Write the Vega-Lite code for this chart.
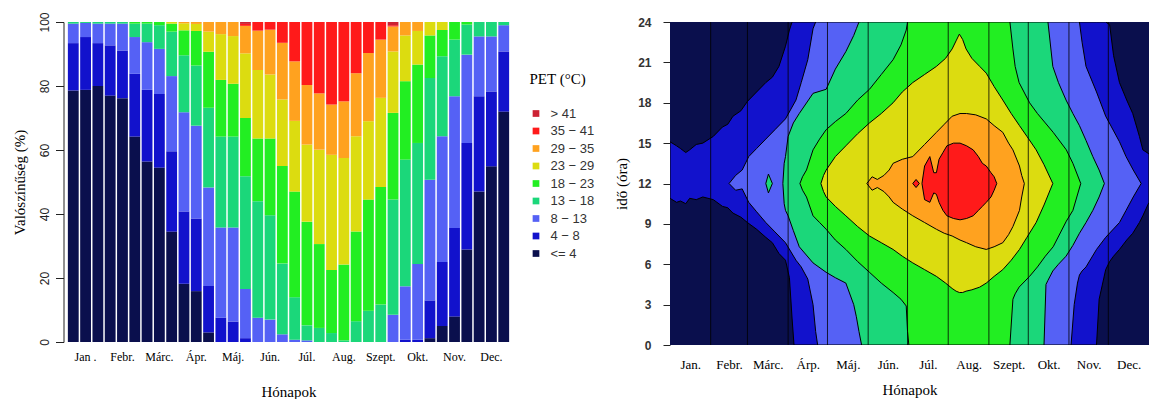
{
"$schema": "https://vega.github.io/schema/vega-lite/v6.json",
"background": "white",
"padding": {"left": 12.5, "top": 11, "right": 0, "bottom": 0},
"config": {"view": {"stroke": null}, "font": "Liberation Serif", "concat": {"spacing": 19.5}},
"datasets": {
"bars": [
{"p":1,"c":"<= 4","k":1,"v":78.6},{"p":1,"c":"4 − 8","k":2,"v":14.8},{"p":1,"c":"8 − 13","k":3,"v":6.1},{"p":1,"c":"13 − 18","k":4,"v":0.5},
{"p":2,"c":"<= 4","k":1,"v":78.8},{"p":2,"c":"4 − 8","k":2,"v":16.5},{"p":2,"c":"8 − 13","k":3,"v":4.4},{"p":2,"c":"13 − 18","k":4,"v":0.3},
{"p":3,"c":"<= 4","k":1,"v":80},{"p":3,"c":"4 − 8","k":2,"v":13.4},{"p":3,"c":"8 − 13","k":3,"v":6.1},{"p":3,"c":"13 − 18","k":4,"v":0.5},
{"p":4,"c":"<= 4","k":1,"v":77},{"p":4,"c":"4 − 8","k":2,"v":15.7},{"p":4,"c":"8 − 13","k":3,"v":6.8},{"p":4,"c":"13 − 18","k":4,"v":0.5},
{"p":5,"c":"<= 4","k":1,"v":76.2},{"p":5,"c":"4 − 8","k":2,"v":14.9},{"p":5,"c":"8 − 13","k":3,"v":8.4},{"p":5,"c":"13 − 18","k":4,"v":0.5},
{"p":6,"c":"<= 4","k":1,"v":64.2},{"p":6,"c":"4 − 8","k":2,"v":19.6},{"p":6,"c":"8 − 13","k":3,"v":11.5},{"p":6,"c":"13 − 18","k":4,"v":4.2},{"p":6,"c":"18 − 23","k":5,"v":0.5},
{"p":7,"c":"<= 4","k":1,"v":56.4},{"p":7,"c":"4 − 8","k":2,"v":22.4},{"p":7,"c":"8 − 13","k":3,"v":14.9},{"p":7,"c":"13 − 18","k":4,"v":5.8},{"p":7,"c":"18 − 23","k":5,"v":0.5},
{"p":8,"c":"<= 4","k":1,"v":54.5},{"p":8,"c":"4 − 8","k":2,"v":23},{"p":8,"c":"8 − 13","k":3,"v":14.1},{"p":8,"c":"13 − 18","k":4,"v":7.4},{"p":8,"c":"18 − 23","k":5,"v":1},
{"p":9,"c":"<= 4","k":1,"v":34.5},{"p":9,"c":"4 − 8","k":2,"v":25.1},{"p":9,"c":"8 − 13","k":3,"v":23.5},{"p":9,"c":"13 − 18","k":4,"v":13.9},{"p":9,"c":"18 − 23","k":5,"v":2.5},{"p":9,"c":"23 − 29","k":6,"v":0.5},
{"p":10,"c":"<= 4","k":1,"v":18.2},{"p":10,"c":"4 − 8","k":2,"v":22.6},{"p":10,"c":"8 − 13","k":3,"v":31},{"p":10,"c":"13 − 18","k":4,"v":17.8},{"p":10,"c":"18 − 23","k":5,"v":7.8},{"p":10,"c":"23 − 29","k":6,"v":2.2},{"p":10,"c":"29 − 35","k":7,"v":0.4},
{"p":11,"c":"<= 4","k":1,"v":15.9},{"p":11,"c":"4 − 8","k":2,"v":22.7},{"p":11,"c":"8 − 13","k":3,"v":29},{"p":11,"c":"13 − 18","k":4,"v":18.8},{"p":11,"c":"18 − 23","k":5,"v":10.8},{"p":11,"c":"23 − 29","k":6,"v":2.2},{"p":11,"c":"29 − 35","k":7,"v":0.6},
{"p":12,"c":"<= 4","k":1,"v":3},{"p":12,"c":"4 − 8","k":2,"v":14.5},{"p":12,"c":"8 − 13","k":3,"v":30.8},{"p":12,"c":"13 − 18","k":4,"v":24.9},{"p":12,"c":"18 − 23","k":5,"v":17.5},{"p":12,"c":"23 − 29","k":6,"v":6.3},{"p":12,"c":"29 − 35","k":7,"v":3},
{"p":13,"c":"4 − 8","k":2,"v":7.6},{"p":13,"c":"8 − 13","k":3,"v":28.2},{"p":13,"c":"13 − 18","k":4,"v":28.4},{"p":13,"c":"18 − 23","k":5,"v":17.7},{"p":13,"c":"23 − 29","k":6,"v":14.3},{"p":13,"c":"29 − 35","k":7,"v":3.8},
{"p":14,"c":"4 − 8","k":2,"v":6.4},{"p":14,"c":"8 − 13","k":3,"v":29.4},{"p":14,"c":"13 − 18","k":4,"v":28.4},{"p":14,"c":"18 − 23","k":5,"v":16.5},{"p":14,"c":"23 − 29","k":6,"v":14.9},{"p":14,"c":"29 − 35","k":7,"v":4.4},
{"p":15,"c":"4 − 8","k":2,"v":1.2},{"p":15,"c":"8 − 13","k":3,"v":15.4},{"p":15,"c":"13 − 18","k":4,"v":35.2},{"p":15,"c":"18 − 23","k":5,"v":18.2},{"p":15,"c":"23 − 29","k":6,"v":20.2},{"p":15,"c":"29 − 35","k":7,"v":8.6},{"p":15,"c":"35 − 41","k":8,"v":0.6},{"p":15,"c":"> 41","k":9,"v":0.6},
{"p":16,"c":"8 − 13","k":3,"v":7.6},{"p":16,"c":"13 − 18","k":4,"v":36.4},{"p":16,"c":"18 − 23","k":5,"v":19.6},{"p":16,"c":"23 − 29","k":6,"v":21.4},{"p":16,"c":"29 − 35","k":7,"v":12.3},{"p":16,"c":"35 − 41","k":8,"v":2.7},
{"p":17,"c":"8 − 13","k":3,"v":7},{"p":17,"c":"13 − 18","k":4,"v":32.6},{"p":17,"c":"18 − 23","k":5,"v":24},{"p":17,"c":"23 − 29","k":6,"v":20},{"p":17,"c":"29 − 35","k":7,"v":14},{"p":17,"c":"35 − 41","k":8,"v":2.4},
{"p":18,"c":"8 − 13","k":3,"v":2.4},{"p":18,"c":"13 − 18","k":4,"v":22.1},{"p":18,"c":"18 − 23","k":5,"v":30.5},{"p":18,"c":"23 − 29","k":6,"v":20.8},{"p":18,"c":"29 − 35","k":7,"v":17.7},{"p":18,"c":"35 − 41","k":8,"v":6.5},
{"p":19,"c":"8 − 13","k":3,"v":0.7},{"p":19,"c":"13 − 18","k":4,"v":13.3},{"p":19,"c":"18 − 23","k":5,"v":33},{"p":19,"c":"23 − 29","k":6,"v":22.1},{"p":19,"c":"29 − 35","k":7,"v":18.6},{"p":19,"c":"35 − 41","k":8,"v":12.3},
{"p":20,"c":"8 − 13","k":3,"v":0.5},{"p":20,"c":"13 − 18","k":4,"v":4.7},{"p":20,"c":"18 − 23","k":5,"v":32.4},{"p":20,"c":"23 − 29","k":6,"v":24.1},{"p":20,"c":"29 − 35","k":7,"v":18.6},{"p":20,"c":"35 − 41","k":8,"v":19.7},
{"p":21,"c":"13 − 18","k":4,"v":4.4},{"p":21,"c":"18 − 23","k":5,"v":26.2},{"p":21,"c":"23 − 29","k":6,"v":29.5},{"p":21,"c":"29 − 35","k":7,"v":17.6},{"p":21,"c":"35 − 41","k":8,"v":22.3},
{"p":22,"c":"13 − 18","k":4,"v":2.8},{"p":22,"c":"18 − 23","k":5,"v":19.7},{"p":22,"c":"23 − 29","k":6,"v":36},{"p":22,"c":"29 − 35","k":7,"v":15.7},{"p":22,"c":"35 − 41","k":8,"v":25.8},
{"p":23,"c":"13 − 18","k":4,"v":0.5},{"p":23,"c":"18 − 23","k":5,"v":23.7},{"p":23,"c":"23 − 29","k":6,"v":33.3},{"p":23,"c":"29 − 35","k":7,"v":17.7},{"p":23,"c":"35 − 41","k":8,"v":24.8},
{"p":24,"c":"13 − 18","k":4,"v":6.5},{"p":24,"c":"18 − 23","k":5,"v":28},{"p":24,"c":"23 − 29","k":6,"v":29.8},{"p":24,"c":"29 − 35","k":7,"v":19.7},{"p":24,"c":"35 − 41","k":8,"v":16},
{"p":25,"c":"13 − 18","k":4,"v":9.8},{"p":25,"c":"18 − 23","k":5,"v":34.7},{"p":25,"c":"23 − 29","k":6,"v":24.5},{"p":25,"c":"29 − 35","k":7,"v":21.3},{"p":25,"c":"35 − 41","k":8,"v":9.7},
{"p":26,"c":"13 − 18","k":4,"v":11.7},{"p":26,"c":"18 − 23","k":5,"v":36.7},{"p":26,"c":"23 − 29","k":6,"v":27.9},{"p":26,"c":"29 − 35","k":7,"v":18.2},{"p":26,"c":"35 − 41","k":8,"v":5.5},
{"p":27,"c":"8 − 13","k":3,"v":8.5},{"p":27,"c":"13 − 18","k":4,"v":36},{"p":27,"c":"18 − 23","k":5,"v":27.1},{"p":27,"c":"23 − 29","k":6,"v":19.2},{"p":27,"c":"29 − 35","k":7,"v":7.8},{"p":27,"c":"35 − 41","k":8,"v":0.4},{"p":27,"c":"> 41","k":9,"v":1},
{"p":28,"c":"4 − 8","k":2,"v":0.7},{"p":28,"c":"8 − 13","k":3,"v":16.7},{"p":28,"c":"13 − 18","k":4,"v":39.6},{"p":28,"c":"18 − 23","k":5,"v":24.5},{"p":28,"c":"23 − 29","k":6,"v":14.3},{"p":28,"c":"29 − 35","k":7,"v":4.2},
{"p":29,"c":"4 − 8","k":2,"v":0.7},{"p":29,"c":"8 − 13","k":3,"v":23.7},{"p":29,"c":"13 − 18","k":4,"v":37.8},{"p":29,"c":"18 − 23","k":5,"v":24.5},{"p":29,"c":"23 − 29","k":6,"v":10.5},{"p":29,"c":"29 − 35","k":7,"v":2.8},
{"p":30,"c":"<= 4","k":1,"v":1.2},{"p":30,"c":"4 − 8","k":2,"v":11.8},{"p":30,"c":"8 − 13","k":3,"v":37.7},{"p":30,"c":"13 − 18","k":4,"v":31.8},{"p":30,"c":"18 − 23","k":5,"v":13.3},{"p":30,"c":"23 − 29","k":6,"v":4.2},
{"p":31,"c":"<= 4","k":1,"v":5},{"p":31,"c":"4 − 8","k":2,"v":20},{"p":31,"c":"8 − 13","k":3,"v":39.3},{"p":31,"c":"13 − 18","k":4,"v":25},{"p":31,"c":"18 − 23","k":5,"v":8.2},{"p":31,"c":"23 − 29","k":6,"v":2.5},
{"p":32,"c":"<= 4","k":1,"v":8},{"p":32,"c":"4 − 8","k":2,"v":27.6},{"p":32,"c":"8 − 13","k":3,"v":41.2},{"p":32,"c":"13 − 18","k":4,"v":17.7},{"p":32,"c":"18 − 23","k":5,"v":5.5},
{"p":33,"c":"<= 4","k":1,"v":28.9},{"p":33,"c":"4 − 8","k":2,"v":33.3},{"p":33,"c":"8 − 13","k":3,"v":27.6},{"p":33,"c":"13 − 18","k":4,"v":9.4},{"p":33,"c":"18 − 23","k":5,"v":0.8},
{"p":34,"c":"<= 4","k":1,"v":47},{"p":34,"c":"4 − 8","k":2,"v":29.8},{"p":34,"c":"8 − 13","k":3,"v":18.7},{"p":34,"c":"13 − 18","k":4,"v":4.5},
{"p":35,"c":"<= 4","k":1,"v":54.9},{"p":35,"c":"4 − 8","k":2,"v":23.4},{"p":35,"c":"8 − 13","k":3,"v":17.2},{"p":35,"c":"13 − 18","k":4,"v":4.5},
{"p":36,"c":"<= 4","k":1,"v":72},{"p":36,"c":"4 − 8","k":2,"v":18.8},{"p":36,"c":"8 − 13","k":3,"v":8.2},{"p":36,"c":"13 − 18","k":4,"v":1}
],
"cont": [
{"c":"<= 4","d":0,"lo":0,"hi":24},{"c":"<= 4","d":365,"lo":0,"hi":24},
{"c":"4 − 8","d":0,"lo":10.9,"hi":15.1},{"c":"4 − 8","d":5,"lo":10.6,"hi":14.8},{"c":"4 − 8","d":8,"lo":10.7,"hi":14.6},{"c":"4 − 8","d":12,"lo":10.5,"hi":14.3},{"c":"4 − 8","d":15,"lo":10.9,"hi":14.5},{"c":"4 − 8","d":20,"lo":10.8,"hi":14.9},{"c":"4 − 8","d":25,"lo":11,"hi":15},{"c":"4 − 8","d":33,"lo":10.8,"hi":15.5},{"c":"4 − 8","d":40,"lo":10.3,"hi":16.2},{"c":"4 − 8","d":44,"lo":10.2,"hi":16.4},{"c":"4 − 8","d":48,"lo":9.8,"hi":17},{"c":"4 − 8","d":54,"lo":9.5,"hi":17.4},{"c":"4 − 8","d":59,"lo":9.1,"hi":18.1},{"c":"4 − 8","d":66,"lo":8.6,"hi":18.8},{"c":"4 − 8","d":73,"lo":8,"hi":19.5},{"c":"4 − 8","d":78,"lo":7.6,"hi":19.9},{"c":"4 − 8","d":83,"lo":6.8,"hi":20.7},{"c":"4 − 8","d":88,"lo":6.3,"hi":22.2},{"c":"4 − 8","d":91,"lo":5,"hi":23.4},{"c":"4 − 8","d":93,"lo":2,"hi":24},{"c":"4 − 8","d":94.5,"lo":0,"hi":24},{"c":"4 − 8","d":325,"lo":0,"hi":24},{"c":"4 − 8","d":327,"lo":3.4,"hi":24},{"c":"4 − 8","d":332,"lo":5.6,"hi":24},{"c":"4 − 8","d":335,"lo":6.2,"hi":23.8},{"c":"4 − 8","d":338,"lo":6.6,"hi":21.5},{"c":"4 − 8","d":342.5,"lo":7.1,"hi":19.5},{"c":"4 − 8","d":348,"lo":7.8,"hi":18.2},{"c":"4 − 8","d":352.6,"lo":8.3,"hi":17.2},{"c":"4 − 8","d":357.7,"lo":9.1,"hi":15.5},{"c":"4 − 8","d":360.3,"lo":9.6,"hi":14.5},{"c":"4 − 8","d":365,"lo":10.6,"hi":14.2},
{"c":"8 − 13","d":45,"lo":12,"hi":12},{"c":"8 − 13","d":50,"lo":11.5,"hi":12.6},{"c":"8 − 13","d":55,"lo":11.6,"hi":13},{"c":"8 − 13","d":60,"lo":10.6,"hi":14},{"c":"8 − 13","d":66,"lo":9.9,"hi":14.6},{"c":"8 − 13","d":73,"lo":9.1,"hi":15.3},{"c":"8 − 13","d":80,"lo":8.4,"hi":16},{"c":"8 − 13","d":88,"lo":7.6,"hi":16.8},{"c":"8 − 13","d":96,"lo":6.3,"hi":18.2},{"c":"8 − 13","d":100,"lo":5.8,"hi":19.5},{"c":"8 − 13","d":105,"lo":4.9,"hi":21.2},{"c":"8 − 13","d":109,"lo":3,"hi":23.5},{"c":"8 − 13","d":111,"lo":1,"hi":24},{"c":"8 − 13","d":112.5,"lo":0,"hi":24},{"c":"8 − 13","d":305.6,"lo":0,"hi":24},{"c":"8 − 13","d":308,"lo":3,"hi":24},{"c":"8 − 13","d":310.5,"lo":4.6,"hi":24},{"c":"8 − 13","d":312,"lo":5.2,"hi":24},{"c":"8 − 13","d":314,"lo":5.5,"hi":22.5},{"c":"8 − 13","d":317,"lo":5.8,"hi":20.7},{"c":"8 − 13","d":325,"lo":7.1,"hi":18.8},{"c":"8 − 13","d":332,"lo":8,"hi":17},{"c":"8 − 13","d":342.5,"lo":9.1,"hi":15.1},{"c":"8 − 13","d":347.5,"lo":10,"hi":14},{"c":"8 − 13","d":353,"lo":11,"hi":13},{"c":"8 − 13","d":359,"lo":12,"hi":12},
{"c":"13 − 18","s":2,"d":73,"lo":12,"hi":12},{"c":"13 − 18","s":2,"d":75,"lo":11.3,"hi":12.7},{"c":"13 − 18","s":2,"d":78,"lo":12,"hi":12},
{"c":"13 − 18","d":86,"lo":12,"hi":12},{"c":"13 − 18","d":87,"lo":10.5,"hi":13.5},{"c":"13 − 18","d":88,"lo":10,"hi":14},{"c":"13 − 18","d":90,"lo":9.6,"hi":15.5},{"c":"13 − 18","d":94,"lo":8.5,"hi":16.5},{"c":"13 − 18","d":98.5,"lo":7.3,"hi":17.2},{"c":"13 − 18","d":109,"lo":6.1,"hi":18.7},{"c":"13 − 18","d":119,"lo":5.4,"hi":19},{"c":"13 − 18","d":126,"lo":5,"hi":20.5},{"c":"13 − 18","d":134,"lo":4.6,"hi":21.8},{"c":"13 − 18","d":140,"lo":3,"hi":23},{"c":"13 − 18","d":142,"lo":2.1,"hi":23.5},{"c":"13 − 18","d":144,"lo":1,"hi":24},{"c":"13 − 18","d":146,"lo":0,"hi":24},{"c":"13 − 18","d":285,"lo":0,"hi":24},{"c":"13 − 18","d":286.5,"lo":4.5,"hi":24},{"c":"13 − 18","d":288,"lo":4.8,"hi":24},{"c":"13 − 18","d":291.7,"lo":5.5,"hi":20.7},{"c":"13 − 18","d":296,"lo":6,"hi":19.5},{"c":"13 − 18","d":301.8,"lo":6.6,"hi":18.2},{"c":"13 − 18","d":307,"lo":7.4,"hi":17.2},{"c":"13 − 18","d":312,"lo":8.3,"hi":16.3},{"c":"13 − 18","d":317,"lo":9.1,"hi":15.2},{"c":"13 − 18","d":322.2,"lo":10,"hi":14},{"c":"13 − 18","d":327,"lo":11,"hi":13},{"c":"13 − 18","d":331,"lo":12,"hi":12},
{"c":"18 − 23","d":99,"lo":12,"hi":12},{"c":"18 − 23","d":101,"lo":11.5,"hi":12.5},{"c":"18 − 23","d":104,"lo":11,"hi":13},{"c":"18 − 23","d":109,"lo":9.6,"hi":14.5},{"c":"18 − 23","d":114,"lo":9.1,"hi":15.3},{"c":"18 − 23","d":119,"lo":8.6,"hi":16},{"c":"18 − 23","d":126,"lo":7.8,"hi":16.6},{"c":"18 − 23","d":134,"lo":7.1,"hi":17.2},{"c":"18 − 23","d":143,"lo":6.2,"hi":18.2},{"c":"18 − 23","d":152,"lo":5.4,"hi":19},{"c":"18 − 23","d":161,"lo":4.6,"hi":20.1},{"c":"18 − 23","d":170,"lo":3.9,"hi":21.2},{"c":"18 − 23","d":176,"lo":3.4,"hi":22.3},{"c":"18 − 23","d":180,"lo":2.9,"hi":23.4},{"c":"18 − 23","d":181,"lo":1,"hi":24},{"c":"18 − 23","d":182,"lo":0,"hi":24},{"c":"18 − 23","d":259,"lo":0,"hi":24},{"c":"18 − 23","d":261.3,"lo":3.4,"hi":22},{"c":"18 − 23","d":263,"lo":3.8,"hi":20.7},{"c":"18 − 23","d":266,"lo":4.3,"hi":19.5},{"c":"18 − 23","d":274,"lo":5.1,"hi":18},{"c":"18 − 23","d":280,"lo":5.8,"hi":17.2},{"c":"18 − 23","d":286,"lo":6.6,"hi":16.5},{"c":"18 − 23","d":292,"lo":7.3,"hi":15.8},{"c":"18 − 23","d":302,"lo":9.2,"hi":14.5},{"c":"18 − 23","d":307,"lo":10,"hi":13.5},{"c":"18 − 23","d":313,"lo":12,"hi":12},
{"c":"23 − 29","d":115,"lo":12,"hi":12},{"c":"23 − 29","d":117,"lo":11.4,"hi":12.6},{"c":"23 − 29","d":119,"lo":11,"hi":13},{"c":"23 − 29","d":126,"lo":10.3,"hi":14},{"c":"23 − 29","d":134,"lo":9.6,"hi":14.8},{"c":"23 − 29","d":143,"lo":8.8,"hi":15.7},{"c":"23 − 29","d":152,"lo":8.1,"hi":16.5},{"c":"23 − 29","d":161,"lo":7.6,"hi":17.2},{"c":"23 − 29","d":170,"lo":7.1,"hi":18},{"c":"23 − 29","d":177,"lo":6.6,"hi":18.8},{"c":"23 − 29","d":185,"lo":6.1,"hi":19.5},{"c":"23 − 29","d":194,"lo":5.6,"hi":20.1},{"c":"23 − 29","d":203,"lo":5.1,"hi":20.7},{"c":"23 − 29","d":210,"lo":4.6,"hi":21.3},{"c":"23 − 29","d":215,"lo":4.2,"hi":22},{"c":"23 − 29","d":218,"lo":4,"hi":22.6},{"c":"23 − 29","d":220.5,"lo":3.9,"hi":23.1},{"c":"23 − 29","d":223,"lo":3.9,"hi":22.7},{"c":"23 − 29","d":225.6,"lo":4,"hi":22},{"c":"23 − 29","d":230,"lo":4.1,"hi":21.3},{"c":"23 − 29","d":236,"lo":4.3,"hi":20.7},{"c":"23 − 29","d":241,"lo":4.6,"hi":20.2},{"c":"23 − 29","d":247,"lo":5.1,"hi":19.2},{"c":"23 − 29","d":253.6,"lo":5.6,"hi":18.2},{"c":"23 − 29","d":260,"lo":6.3,"hi":17.2},{"c":"23 − 29","d":266.3,"lo":7.1,"hi":16.3},{"c":"23 − 29","d":272,"lo":8,"hi":15.5},{"c":"23 − 29","d":279,"lo":9.1,"hi":14.5},{"c":"23 − 29","d":285,"lo":10.4,"hi":13.4},{"c":"23 − 29","d":291.7,"lo":12,"hi":12},
{"c":"29 − 35","d":150,"lo":12,"hi":12},{"c":"29 − 35","d":154,"lo":11.5,"hi":12.5},{"c":"29 − 35","d":158,"lo":11.7,"hi":12.3},{"c":"29 − 35","d":163,"lo":11.4,"hi":12.6},{"c":"29 − 35","d":167,"lo":11,"hi":13},{"c":"29 − 35","d":170,"lo":10.6,"hi":13.5},{"c":"29 − 35","d":177,"lo":10.1,"hi":13.8},{"c":"29 − 35","d":185,"lo":9.6,"hi":14},{"c":"29 − 35","d":194,"lo":9.1,"hi":14.9},{"c":"29 − 35","d":203,"lo":8.6,"hi":15.8},{"c":"29 − 35","d":209,"lo":8.3,"hi":16.4},{"c":"29 − 35","d":215,"lo":8.1,"hi":17},{"c":"29 − 35","d":221,"lo":7.8,"hi":17.2},{"c":"29 − 35","d":226,"lo":7.6,"hi":17.2},{"c":"29 − 35","d":233,"lo":7.3,"hi":17.1},{"c":"29 − 35","d":241,"lo":7.1,"hi":16.8},{"c":"29 − 35","d":247,"lo":7.3,"hi":16.3},{"c":"29 − 35","d":253.6,"lo":7.6,"hi":15.8},{"c":"29 − 35","d":258,"lo":8.2,"hi":15},{"c":"29 − 35","d":261.3,"lo":8.8,"hi":14.5},{"c":"29 − 35","d":266.3,"lo":10,"hi":13.3},{"c":"29 − 35","d":268,"lo":11,"hi":12.6},{"c":"29 − 35","d":270,"lo":12,"hi":12},
{"c":"35 − 41","s":2,"d":185,"lo":12,"hi":12},{"c":"35 − 41","s":2,"d":187.5,"lo":11.7,"hi":12.3},{"c":"35 − 41","s":2,"d":190,"lo":12,"hi":12},
{"c":"35 − 41","d":192,"lo":12,"hi":12},{"c":"35 − 41","d":194,"lo":10.8,"hi":13.3},{"c":"35 − 41","d":198,"lo":10.6,"hi":14},{"c":"35 − 41","d":201,"lo":11.3,"hi":12.8},{"c":"35 − 41","d":203,"lo":11.2,"hi":12.8},{"c":"35 − 41","d":205,"lo":10.6,"hi":13.8},{"c":"35 − 41","d":208,"lo":10,"hi":14.3},{"c":"35 − 41","d":211,"lo":9.6,"hi":14.8},{"c":"35 − 41","d":216,"lo":9.4,"hi":15},{"c":"35 − 41","d":221,"lo":9.3,"hi":15},{"c":"35 − 41","d":226,"lo":9.4,"hi":14.8},{"c":"35 − 41","d":231,"lo":9.6,"hi":14.5},{"c":"35 − 41","d":235,"lo":10,"hi":14},{"c":"35 − 41","d":238,"lo":10.3,"hi":13.5},{"c":"35 − 41","d":241,"lo":10.6,"hi":13.3},{"c":"35 − 41","d":244.6,"lo":11,"hi":12.8},{"c":"35 − 41","d":247,"lo":11.5,"hi":12.5},{"c":"35 − 41","d":249,"lo":12,"hi":12}
],
"months": [{"b":31},{"b":59},{"b":90},{"b":120},{"b":151},{"b":181},{"b":212},{"b":243},{"b":273},{"b":304},{"b":334}]
},
"hconcat": [
{
"width": 442, "height": 320,
"data": {"name": "bars"},
"mark": {"type": "bar"},
"encoding": {
"x": {"field": "p", "type": "ordinal", "scale": {"paddingInner": 0.12, "paddingOuter": 0.03},
 "axis": {"title": "Hónapok", "labelExpr": "datum.value % 3 == 2 ? ['Jan .','Febr.','Márc.','Ápr.','Máj.','Jún.','Júl.','Aug.','Szept.','Okt.','Nov.','Dec.'][floor(datum.value/3)] : ''", "ticks": false, "domain": false, "labelAngle": 0, "labelOverlap": false, "labelDx": 3, "labelFont": "Liberation Serif", "labelFontSize": 12, "labelColor": "black", "labelPadding": 9, "titleFont": "Liberation Serif", "titleFontSize": 15, "titleFontWeight": "normal", "titleColor": "black", "titlePadding": 22}},
"y": {"field": "v", "type": "quantitative", "stack": "zero", "scale": {"domain": [0, 100], "nice": false},
 "axis": {"title": "Valószínűség (%)", "values": [0,20,40,60,80,100], "grid": false, "domain": true, "domainColor": "#222", "tickColor": "#222", "tickSize": 8, "offset": 4, "labelAngle": -90, "labelAlign": "center", "labelBaseline": "bottom", "labelFont": "Liberation Sans", "labelFontSize": 12, "labelColor": "#222", "labelPadding": 4, "titleFont": "Liberation Serif", "titleFontSize": 15, "titleFontWeight": "normal", "titleColor": "black", "titlePadding": 11}},
"color": {"field": "c", "type": "nominal",
 "scale": {"domain": ["> 41","35 − 41","29 − 35","23 − 29","18 − 23","13 − 18","8 − 13","4 − 8","<= 4"], "range": ["#cc2233","#ff1a1a","#ffa21f","#dcdc10","#22ee22","#1bd77a","#5561f5","#1212cc","#0a0f4d"]},
 "legend": {"title": "PET (°C)", "orient": "none", "legendX": 462, "legendY": 50, "symbolType": "square", "symbolSize": 45, "symbolStrokeWidth": 0, "titleFont": "Liberation Serif", "titleFontSize": 15, "titleFontWeight": "normal", "titleColor": "black", "titlePadding": 20, "labelFont": "Liberation Sans", "labelFontSize": 13, "labelColor": "#333", "rowPadding": 3.5, "labelOffset": 8}},
"order": {"field": "k", "type": "quantitative", "sort": "ascending"}
}
},
{
"width": 479, "height": 323,
"layer": [
{
"data": {"name": "cont"},
"encoding": {
"x": {"field": "d", "type": "quantitative", "scale": {"domain": [0, 365], "nice": false, "zero": false},
 "axis": {"title": "Hónapok", "values": [15.5,45,74.5,105,135.5,166,196.5,227.5,258,288.5,319,349.5], "labelExpr": "['Jan.','Febr.','Márc.','Árp.','Máj.','Jún.','Júl.','Aug.','Szept.','Okt.','Nov.','Dec.'][floor(datum.value/30.42)]", "ticks": false, "domain": false, "grid": false, "labelFlush": false, "labelOverlap": false, "labelFont": "Liberation Serif", "labelFontSize": 13, "labelColor": "black", "labelPadding": 13, "titleFont": "Liberation Serif", "titleFontSize": 15, "titleFontWeight": "normal", "titleColor": "black", "titlePadding": 11}},
"y": {"field": "lo", "type": "quantitative", "scale": {"domain": [0, 24], "nice": false},
 "axis": {"title": "idő (óra)", "values": [0,3,6,9,12,15,18,21,24], "grid": false, "domain": false, "tickSize": 7, "tickColor": "#222", "labelFlush": false, "labelFont": "Liberation Sans", "labelFontSize": 12, "labelFontWeight": "bold", "labelColor": "#333", "labelPadding": 12, "titleFont": "Liberation Serif", "titleFontSize": 15, "titleFontWeight": "normal", "titleColor": "black", "titlePadding": 8}},
"y2": {"field": "hi"},
"color": {"field": "c", "type": "nominal", "scale": {"domain": ["> 41","35 − 41","29 − 35","23 − 29","18 − 23","13 − 18","8 − 13","4 − 8","<= 4"], "range": ["#cc2233","#ff1a1a","#ffa21f","#dcdc10","#22ee22","#1bd77a","#5561f5","#1212cc","#0a0f4d"]}, "legend": null},
"detail": {"field": "s"}
},
"layer": [
{"transform": [{"filter": "datum.c == '<= 4'"}], "mark": {"type": "area", "clip": true}},
{"transform": [{"filter": "datum.c == '4 − 8'"}], "mark": {"type": "area", "clip": true, "stroke": "black", "strokeWidth": 1}},
{"transform": [{"filter": "datum.c == '8 − 13'"}], "mark": {"type": "area", "clip": true, "stroke": "black", "strokeWidth": 1}},
{"transform": [{"filter": "datum.c == '13 − 18'"}], "mark": {"type": "area", "clip": true, "stroke": "black", "strokeWidth": 1}},
{"transform": [{"filter": "datum.c == '18 − 23'"}], "mark": {"type": "area", "clip": true, "stroke": "black", "strokeWidth": 1}},
{"transform": [{"filter": "datum.c == '23 − 29'"}], "mark": {"type": "area", "clip": true, "stroke": "black", "strokeWidth": 1}},
{"transform": [{"filter": "datum.c == '29 − 35'"}], "mark": {"type": "area", "clip": true, "stroke": "black", "strokeWidth": 1}},
{"transform": [{"filter": "datum.c == '35 − 41'"}], "mark": {"type": "area", "clip": true, "stroke": "black", "strokeWidth": 1}}
]
},
{
"data": {"name": "months"},
"mark": {"type": "rule", "color": "black", "strokeWidth": 1, "opacity": 0.8},
"encoding": {"x": {"field": "b", "type": "quantitative", "scale": {"domain": [0, 365], "nice": false, "zero": false},
 "axis": {"title": "Hónapok", "values": [15.5,45,74.5,105,135.5,166,196.5,227.5,258,288.5,319,349.5], "labelExpr": "['Jan.','Febr.','Márc.','Árp.','Máj.','Jún.','Júl.','Aug.','Szept.','Okt.','Nov.','Dec.'][floor(datum.value/30.42)]", "ticks": false, "domain": false, "grid": false, "labelFlush": false, "labelOverlap": false, "labelFont": "Liberation Serif", "labelFontSize": 13, "labelColor": "black", "labelPadding": 13, "titleFont": "Liberation Serif", "titleFontSize": 15, "titleFontWeight": "normal", "titleColor": "black", "titlePadding": 11}}}
}
]
}
],
"resolve": {"scale": {"color": "independent"}}
}
